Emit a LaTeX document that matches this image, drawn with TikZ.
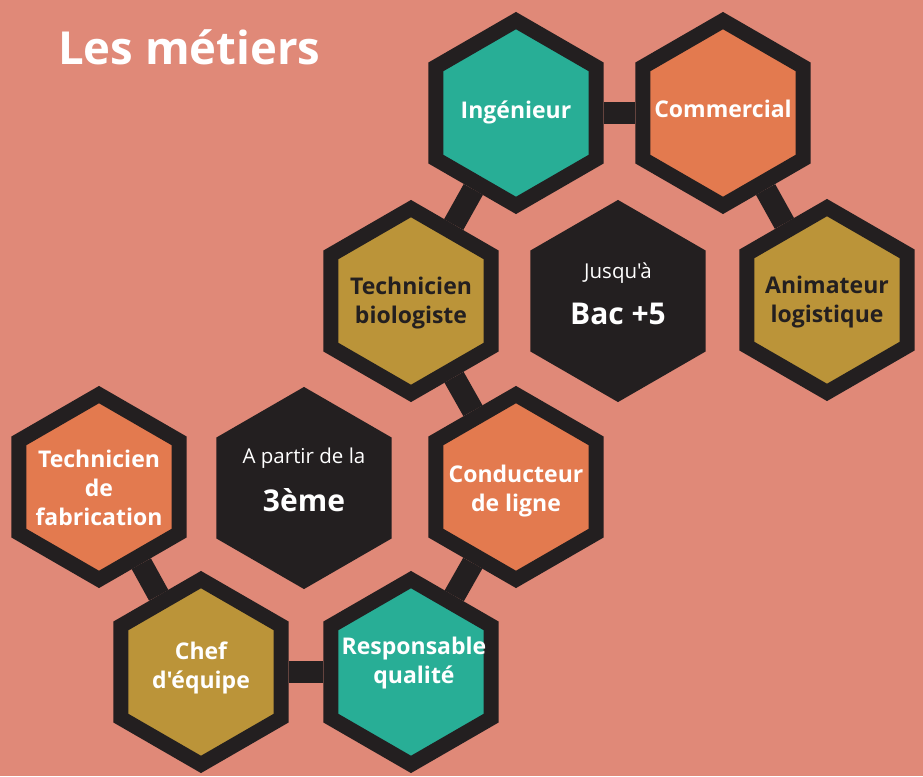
\documentclass[tikz,border=0pt]{standalone}
\usepackage{fontspec}
\setmainfont{Open Sans}[Ligatures=TeXOff]
\usetikzlibrary{shapes.geometric,calc}
\definecolor{bgc}{HTML}{E08978}
\definecolor{ink}{HTML}{231F20}
\definecolor{teal}{HTML}{28AE96}
\definecolor{orng}{HTML}{E37A4F}
\definecolor{gold}{HTML}{BB9439}
\pgfdeclarelayer{back}
\pgfdeclarelayer{links}
\pgfsetlayers{back,links,main}
\begin{document}
\begin{tikzpicture}[x=1pt,y=-1pt,
  hex/.style={regular polygon, regular polygon sides=6, shape border rotate=30,
    minimum size=184.8pt, inner sep=0pt, draw=ink, line width=15pt, line join=miter},
  link/.style={draw=ink, line width=22pt},
  txt/.style={align=center, inner sep=0pt, font=\fontsize{23}{29}\selectfont\bfseries},
  light/.style={anchor=base, inner sep=0pt, text=white, font=\fontsize{20.5}{24}\selectfont},
  big/.style={anchor=base, inner sep=0pt, text=white, font=\fontsize{30}{34}\selectfont\bfseries}]
\begin{pgfonlayer}{back}
  \fill[bgc] (0,0) rectangle (923,776);
\end{pgfonlayer}
\useasboundingbox (0,0) rectangle (923,776);

\node[hex, fill=teal] (ing) at (516,113) {};
\node[hex, fill=orng] (com) at (723,113) {};
\node[hex, fill=gold] (ani) at (827,300) {};
\node[hex, fill=gold] (bio) at (411,301) {};
\node[hex, fill=ink] (bac) at (618,301) {};
\node[hex, fill=orng] (con) at (516,487) {};
\node[hex, fill=ink] (trois) at (304,488) {};
\node[hex, fill=orng] (fab) at (99,487) {};
\node[hex, fill=gold] (chef) at (201,672) {};
\node[hex, fill=teal] (resp) at (411,672) {};

\begin{pgfonlayer}{links}
  \draw[link] (ing) -- (com);
  \draw[link] (ing) -- (bio);
  \draw[link] (com) -- (ani);
  \draw[link] (bio) -- (con);
  \draw[link] (con) -- (resp);
  \draw[link] (resp) -- (chef);
  \draw[link] (chef) -- (fab);
\end{pgfonlayer}

\node[txt, text=white] (t-ing) at ($(ing)+(0,-1)$) {Ingénieur};
\node[txt, text=white] (t-com) at ($(com)+(0,-4)$) {Commercial};
\node[txt, text=ink] (t-ani) at ($(ani)+(0,2)$) {Animateur\\logistique};
\node[txt, text=ink] (t-bio) at ($(bio)+(0,2)$) {Technicien\\biologiste};
\node[txt, text=white] (t-con) at ($(con)+(0,4)$) {Conducteur\\de ligne};
\node[txt, text=white] (t-fab) at ($(fab)+(0,1)$) {Technicien\\de\\fabrication};
\node[txt, text=white] (t-chef) at ($(chef)+(0,-4)$) {Chef\\d'équipe};
\node[txt, text=white] (t-resp) at ($(resp)+(3,-9)$) {Responsable\\qualité};

\node[light] (t-jusq) at (618,278) {Jusqu'à};
\node[big] (t-bac) at (618,324) {Bac +5};
\node[light] (t-apartir) at (304,463) {A partir de la};
\node[big] (t-3eme) at (304,511) {3ème};

\node[anchor=base west, inner sep=0pt, text=white,
  font=\fontsize{45.5}{52}\selectfont\bfseries] (title) at (58,64) {Les métiers};
\end{tikzpicture}
\end{document}
